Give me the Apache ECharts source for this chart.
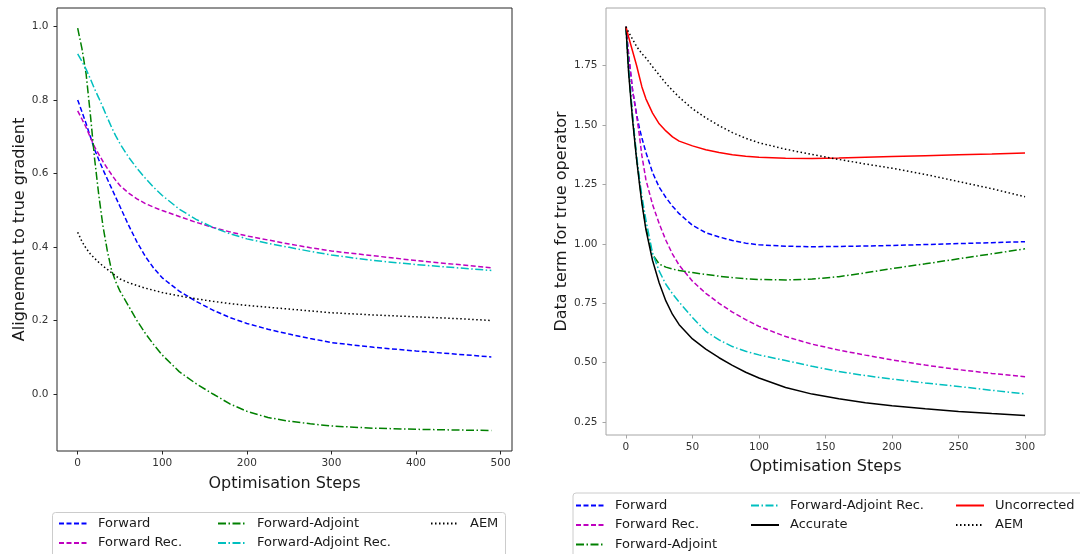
<!DOCTYPE html>
<html>
<head>
<meta charset="utf-8">
<script src="https://cdn.jsdelivr.net/npm/echarts@6/dist/echarts.min.js"></script>
<style>html,body{margin:0;padding:0;background:#fff;}#c{width:1080px;height:554px;}</style>
</head>
<body>
<div id="c"></div>
<script>
// ---------- Left panel: alignment to true gradient ----------
const leftSteps = [0,5,10,15,20,25,30,35,40,45,50,60,70,80,90,100,120,140,160,180,200,225,250,275,300,350,400,450,489];
const leftForward = [0.80,0.768,0.735,0.70,0.665,0.637,0.61,0.585,0.56,0.535,0.51,0.46,0.414,0.374,0.342,0.316,0.28,0.252,0.228,0.208,0.192,0.176,0.163,0.151,0.14,0.127,0.117,0.108,0.101];
const leftForwardRec = [0.77,0.748,0.725,0.698,0.672,0.652,0.632,0.614,0.597,0.581,0.567,0.547,0.531,0.518,0.508,0.499,0.483,0.467,0.453,0.441,0.43,0.419,0.408,0.398,0.389,0.376,0.363,0.352,0.343];
const leftForwardAdjoint = [0.995,0.94,0.87,0.76,0.64,0.54,0.455,0.39,0.337,0.305,0.28,0.24,0.2,0.165,0.134,0.106,0.061,0.028,0.0,-0.027,-0.047,-0.064,-0.074,-0.081,-0.087,-0.093,-0.096,-0.098,-0.099];
const leftForwardAdjointRec = [0.925,0.905,0.883,0.857,0.83,0.805,0.779,0.752,0.726,0.702,0.681,0.645,0.614,0.587,0.562,0.54,0.503,0.475,0.453,0.436,0.422,0.41,0.399,0.388,0.378,0.363,0.352,0.343,0.336];
const leftAEM = [0.44,0.415,0.396,0.381,0.369,0.358,0.348,0.339,0.33,0.321,0.313,0.303,0.295,0.288,0.282,0.276,0.267,0.259,0.252,0.246,0.241,0.236,0.231,0.226,0.221,0.215,0.21,0.205,0.2];
const leftXTicks = [0,100,200,300,400,500];
const leftYTicks = [0.0,0.2,0.4,0.6,0.8,1.0];

// ---------- Right panel: data term for true operator ----------
const rightSteps = [0,2,5,8,10,12,15,20,25,30,35,40,50,60,70,80,90,100,120,140,160,180,200,225,250,275,300];
const rightForward = [1.913,1.79,1.645,1.545,1.49,1.445,1.385,1.3,1.238,1.195,1.158,1.127,1.078,1.047,1.029,1.014,1.003,0.996,0.99,0.988,0.989,0.991,0.993,0.997,1.001,1.005,1.009];
const rightForwardRec = [1.913,1.8,1.645,1.54,1.46,1.37,1.27,1.165,1.085,1.015,0.957,0.91,0.843,0.792,0.75,0.713,0.681,0.653,0.61,0.578,0.553,0.532,0.512,0.49,0.471,0.455,0.441];
const rightForwardAdjoint = [1.913,1.73,1.53,1.36,1.27,1.18,1.07,0.955,0.915,0.902,0.894,0.888,0.879,0.871,0.864,0.858,0.853,0.85,0.848,0.852,0.862,0.878,0.896,0.916,0.937,0.958,0.979];
const rightForwardAdjointRec = [1.913,1.74,1.54,1.37,1.28,1.2,1.1,0.96,0.885,0.83,0.79,0.755,0.69,0.632,0.596,0.568,0.548,0.533,0.509,0.485,0.463,0.446,0.431,0.415,0.4,0.384,0.369];
const rightAccurate = [1.913,1.72,1.52,1.355,1.26,1.17,1.06,0.93,0.835,0.76,0.703,0.66,0.6,0.557,0.521,0.489,0.46,0.436,0.396,0.368,0.348,0.332,0.319,0.306,0.295,0.286,0.278];
const rightUncorrected = [1.913,1.87,1.81,1.75,1.705,1.66,1.61,1.55,1.505,1.475,1.45,1.432,1.412,1.396,1.384,1.375,1.368,1.364,1.36,1.359,1.361,1.364,1.367,1.371,1.375,1.378,1.382];
const rightAEM = [1.913,1.89,1.86,1.83,1.815,1.8,1.782,1.745,1.71,1.675,1.645,1.617,1.568,1.53,1.497,1.468,1.444,1.425,1.398,1.376,1.355,1.336,1.318,1.292,1.262,1.232,1.198];
const rightXTicks = [0,50,100,150,200,250,300];
const rightYTicks = [0.25,0.50,0.75,1.00,1.25,1.50,1.75];

const FONT = 'DejaVu Sans';
const DASH = [5, 2.5];
const DASHDOT = [8, 2.5, 1.5, 2.5];
const DOT = [1.5, 2.5];
const LW = 1.5;

function pairs(xs, ys) { return xs.map((x, i) => [x, ys[i]]); }
function line(name, xi, xs, ys, color, type) {
  return {
    name: name, type: 'line', xAxisIndex: xi, yAxisIndex: xi,
    data: pairs(xs, ys), showSymbol: false, symbol: 'none',
    smooth: false,
    lineStyle: { color: color, width: LW, type: type },
    itemStyle: { color: color },
    emphasis: { disabled: true }
  };
}
function xAxisDef(gi, min, max, ticks, col, gap) {
  return {
    type: 'value', gridIndex: gi, min: min, max: max,
    name: 'Optimisation Steps', nameLocation: 'middle', nameGap: gap,
    nameTextStyle: { fontFamily: FONT, fontSize: 16, color: '#1a1a1a' },
    axisLine: { show: false, onZero: false },
    axisTick: { show: true, inside: false, length: 3.5, customValues: ticks, lineStyle: { color: col, width: 1 } },
    axisLabel: { customValues: ticks, margin: 7, fontFamily: FONT, fontSize: 10.5, color: '#333' },
    splitLine: { show: false }
  };
}
function yAxisDef(gi, min, max, ticks, dec, name, gap, col) {
  return {
    type: 'value', gridIndex: gi, min: min, max: max,
    name: name, nameLocation: 'middle', nameGap: gap,
    nameTextStyle: { fontFamily: FONT, fontSize: 16, color: '#1a1a1a' },
    axisLine: { show: false, onZero: false },
    axisTick: { show: true, inside: false, length: 3.5, customValues: ticks, lineStyle: { color: col, width: 1 } },
    axisLabel: { customValues: ticks, margin: 8.5, fontFamily: FONT, fontSize: 10.5, color: '#333',
      formatter: v => Number(v).toFixed(dec) },
    splitLine: { show: false }
  };
}
function legendDef(names, left, top) {
  return {
    data: names, orient: 'vertical', left: left, top: top,
    itemWidth: 28, itemHeight: 14, itemGap: 6.5, padding: 0,
    selectedMode: false,
    itemStyle: { opacity: 0 },
    textStyle: { fontFamily: FONT, fontSize: 13, color: '#1a1a1a', padding: [0, 0, 0, 6] }
  };
}

const chart = echarts.init(document.getElementById('c'), null, { renderer: 'canvas' });
chart.setOption({
  animation: false,
  backgroundColor: '#fff',
  graphic: [
    { type: 'rect', z: 0, shape: { x: 52.5, y: 512.5, width: 453, height: 70, r: 3 }, style: { fill: '#fff', stroke: '#cccccc', lineWidth: 1 } },
    { type: 'rect', z: 0, shape: { x: 573, y: 493, width: 530, height: 80, r: 3 }, style: { fill: '#fff', stroke: '#cccccc', lineWidth: 1 } }
  ],
  grid: [
    { left: 57, top: 8, width: 455, height: 443, show: true, borderColor: '#262626', borderWidth: 1, backgroundColor: 'transparent' },
    { left: 606, top: 8, width: 439, height: 427, show: true, borderColor: '#a6a6a6', borderWidth: 1, backgroundColor: 'transparent' }
  ],
  xAxis: [
    xAxisDef(0, -24.45, 513.45, leftXTicks, '#262626', 25),
    xAxisDef(1, -15, 315, rightXTicks, '#a6a6a6', 24)
  ],
  yAxis: [
    yAxisDef(0, -0.155, 1.05, leftYTicks, 1, 'Alignement to true gradient', 29, '#262626'),
    yAxisDef(1, 0.196, 1.992, rightYTicks, 2, 'Data term for true operator', 35, '#a6a6a6')
  ],
  legend: [
    legendDef(['Forward', 'Forward Rec.'], 58, 517),
    legendDef(['Forward-Adjoint', 'Forward-Adjoint Rec.'], 217, 517),
    legendDef(['AEM'], 430, 517),
    legendDef(['Forward', 'Forward Rec.', 'Forward-Adjoint'], 575, 499),
    legendDef(['Forward-Adjoint Rec.', 'Accurate'], 750, 499),
    legendDef(['Uncorrected', 'AEM'], 955, 499)
  ],
  series: [
    line('Forward', 0, leftSteps, leftForward, '#0000ff', DASH),
    line('Forward Rec.', 0, leftSteps, leftForwardRec, '#bf00bf', DASH),
    line('Forward-Adjoint', 0, leftSteps, leftForwardAdjoint, '#008000', DASHDOT),
    line('Forward-Adjoint Rec.', 0, leftSteps, leftForwardAdjointRec, '#00bfbf', DASHDOT),
    line('AEM', 0, leftSteps, leftAEM, '#000000', DOT),
    line('Forward', 1, rightSteps, rightForward, '#0000ff', DASH),
    line('Forward Rec.', 1, rightSteps, rightForwardRec, '#bf00bf', DASH),
    line('Forward-Adjoint', 1, rightSteps, rightForwardAdjoint, '#008000', DASHDOT),
    line('Forward-Adjoint Rec.', 1, rightSteps, rightForwardAdjointRec, '#00bfbf', DASHDOT),
    line('Accurate', 1, rightSteps, rightAccurate, '#000000', 'solid'),
    line('Uncorrected', 1, rightSteps, rightUncorrected, '#ff0000', 'solid'),
    line('AEM', 1, rightSteps, rightAEM, '#000000', DOT)
  ]
});
</script>
</body>
</html>
